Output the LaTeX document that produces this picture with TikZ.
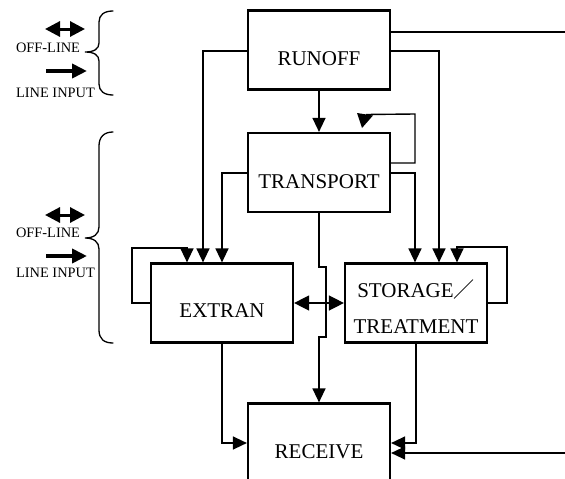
\documentclass[tikz,border=0pt]{standalone}
\usepackage{fontspec}
\setmainfont{Liberation Serif}
\newfontfamily\cjkfont{Noto Sans CJK SC}
\usetikzlibrary{arrows.meta}
\begin{document}
\begin{tikzpicture}[x=1pt,y=-1pt,
  box/.style={draw, line width=2.2pt, minimum width=142pt, minimum height=79pt, inner sep=0pt},
  conn/.style={line width=1.4pt, -{Triangle[length=14pt,width=13pt]}},
  dconn/.style={line width=1.4pt, {Triangle[length=15pt,width=15pt]}-{Triangle[length=15pt,width=15pt]}},
  plain/.style={line width=1.4pt},
  lbl/.style={font=\fontsize{21}{25}\selectfont, anchor=base, inner sep=0pt},
  leg/.style={font=\fontsize{14.4}{17}\selectfont, anchor=base, inner sep=0pt},
  brace/.style={line width=1.3pt, line cap=round},
  legdouble/.style={line width=3pt, {Triangle[length=15pt,width=15pt]}-{Triangle[length=15pt,width=15pt]}},
  legsingle/.style={line width=4pt, -{Triangle[length=15pt,width=14pt]}},
]
\useasboundingbox (0,0) rectangle (565,479);
\clip (0,0) rectangle (565,479);

% boxes
\node[box] (runoff) at (319,50) {};
\node[box] (transport) at (319,172.5) {};
\node[box] (extran) at (222,303) {};
\node[box] (storage) at (416,303) {};
\node[box] (receive) at (319,443) {};

% box labels
\node[lbl] (tRunoff) at (319,65) {RUNOFF};
\node[lbl] (tTransport) at (319,188) {TRANSPORT};
\node[lbl] (tExtran) at (222,317) {EXTRAN};
\node[lbl] (tStorage) at (416,297) {STORAGE{\cjkfont ／}};
\node[lbl] (tTreatment) at (416,333) {TREATMENT};
\node[lbl] (tReceive) at (319,458) {RECEIVE};

% free ends
\coordinate (outR) at (567,32);
\coordinate (inR) at (567,453);

% connectors
\draw[plain] (runoff.east |- 0,32) -- (outR);
\draw[conn] (runoff.west |- 0,51) -| (203,0 |- extran.north);
\draw[conn] (runoff.east |- 0,51) -| (439,0 |- storage.north);
\draw[conn] (runoff.south) -- (transport.north);

% transport feedback
\coordinate (fbEnd) at (366,114.5);
\draw[plain] (transport.east |- 0,163) -| (415,114) -- (fbEnd);
\fill (357,113) -- (373,115.5) -- (362,128) -- cycle;

\draw[conn] (transport.west |- 0,173) -| (222,0 |- extran.north);
\draw[conn] (transport.east |- 0,173) -| (415,0 |- storage.north);

% self loops
\draw[conn] (extran.west |- 0,303) -| (132,248) -| (187,0 |- extran.north);
\draw[conn] (storage.east |- 0,303) -| (507,247) -| (457,0 |- storage.north);

% extran <-> storage
\draw[dconn] (extran.east) -- (storage.west);

% transport to receive with bridge
\draw[conn] (transport.south) -- (319,267) -- (326,267) -- (326,337) -- (319,337) -- (receive.north);

% into receive
\draw[conn] (extran.south) |- (receive.west);
\draw[conn] (storage.south) |- (receive.east);
\draw[conn] (inR) -- (receive.east |- 0,453);

% legend top
\coordinate (l1a) at (45,29);
\coordinate (l1b) at (85,29);
\coordinate (l2a) at (46,71);
\coordinate (l2b) at (87,71);
\draw[legdouble] (l1a) -- (l1b);
\draw[legsingle] (l2a) -- (l2b);
\node[leg] (off1) at (48,52) {OFF-LINE};
\node[leg] (inp1) at (55.5,97) {LINE INPUT};
\draw[brace] (113,11) .. controls (104,11) and (99,15) .. (99,22) -- (99,43)
  .. controls (99,49) and (94,52) .. (85,52)
  .. controls (94,52) and (99,55) .. (99,61) -- (99,84)
  .. controls (99,91) and (104,95) .. (113,95);

% legend bottom
\coordinate (l3a) at (45,215);
\coordinate (l3b) at (85,215);
\coordinate (l4a) at (46,256);
\coordinate (l4b) at (87,256);
\draw[legdouble] (l3a) -- (l3b);
\draw[legsingle] (l4a) -- (l4b);
\node[leg] (off2) at (48,237) {OFF-LINE};
\node[leg] (inp2) at (55.5,277) {LINE INPUT};
\draw[brace] (113,132) .. controls (104,132) and (99,137) .. (99,146) -- (99,227)
  .. controls (99,234) and (94,238) .. (85,238)
  .. controls (94,238) and (99,242) .. (99,249) -- (99,330)
  .. controls (99,339) and (104,343) .. (113,343);
\end{tikzpicture}
\end{document}
